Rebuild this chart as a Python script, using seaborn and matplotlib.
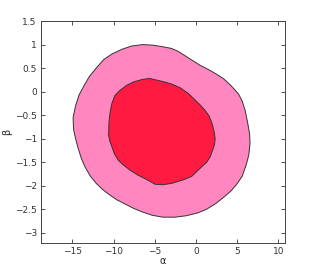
import matplotlib
matplotlib.use('Agg')
import matplotlib.pyplot as plt
import seaborn as sns

# 信頼領域の境界（図から読み取った頂点）
outer_x = [-14.9, -14.6, -14.2, -13.6, -12.9, -12.1, -11.2, -10.2, -9.0, -7.8, -6.5, -5.3,
           -4.2, -3.0, -2.2, -1.3, -0.5, 0.5, 1.5, 2.4, 3.3, 4.0, 4.6, 5.15, 5.6, 5.96,
           6.25, 6.5, 6.55, 6.4, 6.1, 5.6, 4.9, 4.2, 3.4, 2.4, 1.3, 0.2, -1.2, -2.54,
           -4.0, -5.3, -6.5, -7.6, -8.7, -9.6, -10.6, -11.4, -12.1, -12.8, -13.46, -13.9,
           -14.3, -14.6, -14.85]
outer_y = [-0.55, -0.30, -0.08, 0.12, 0.33, 0.50, 0.68, 0.80, 0.90, 0.97, 1.00, 0.99,
           0.96, 0.92, 0.86, 0.76, 0.67, 0.56, 0.47, 0.38, 0.28, 0.17, 0.06, -0.05, -0.20,
           -0.40, -0.65, -0.90, -1.10, -1.35, -1.55, -1.80, -1.98, -2.12, -2.24, -2.38,
           -2.50, -2.58, -2.64, -2.67, -2.67, -2.63, -2.56, -2.48, -2.38, -2.30, -2.18,
           -2.07, -1.95, -1.80, -1.60, -1.42, -1.20, -1.00, -0.80]

inner_x = [-10.6, -10.55, -10.42, -10.2, -9.82, -9.2, -8.4, -7.5, -6.5, -5.6, -4.9, -3.9,
           -2.94, -1.9, -0.93, -0.1, 0.6, 1.1, 1.6, 1.95, 2.2, 2.32, 2.25, 2.11, 1.71, 1.3,
           0.5, -0.51, -1.6, -2.94, -4.0, -4.96, -5.97, -7.0, -8.0, -8.8, -9.42, -9.9,
           -10.2, -10.45]
inner_y = [-0.93, -0.65, -0.45, -0.25, -0.08, 0.03, 0.135, 0.21, 0.26, 0.28, 0.25, 0.21,
           0.16, 0.08, -0.04, -0.18, -0.30, -0.40, -0.52, -0.68, -0.85, -1.00, -1.12,
           -1.20, -1.39, -1.50, -1.63, -1.80, -1.88, -1.95, -1.98, -1.97, -1.87, -1.78,
           -1.67, -1.56, -1.46, -1.32, -1.17, -1.05]

xticks = [-15, -10, -5, 0, 5, 10]
yticks = [-3, -2.5, -2, -1.5, -1, -0.5, 0, 0.5, 1, 1.5]
ytick_labels = ['\u22123', '\u22122.5', '\u22122', '\u22121.5', '\u22121', '\u22120.5', '0', '0.5', '1', '1.5']
xtick_labels = ['\u221215', '\u221210', '\u22125', '0', '5', '10']

sns.set_style('ticks')
plt.rcParams['font.family'] = ['DejaVu Sans']

fig = plt.figure(figsize=(3.15, 2.74), dpi=100)
ax = fig.add_axes([0.130, 0.113, 0.775, 0.810])

ax.fill(outer_x, outer_y, facecolor='#ff86be', edgecolor='#333333', linewidth=0.7)
ax.fill(inner_x, inner_y, facecolor='#ff1a42', edgecolor='#333333', linewidth=0.7)

ax.set_xlim(-18.8, 10.8)
ax.set_ylim(-3.22, 1.5)
ax.set_xticks(xticks)
ax.set_xticklabels(xtick_labels)
ax.set_yticks(yticks)
ax.set_yticklabels(ytick_labels)
ax.tick_params(direction='in', top=True, right=True, length=3, width=0.6,
               labelsize=6.5, colors='#333333', pad=3)
for s in ax.spines.values():
    s.set_linewidth(0.7)
    s.set_color('#444444')
ax.set_xlabel('\u03b1', fontsize=7, labelpad=0)
ax.set_ylabel('\u03b2', fontsize=7, labelpad=2)

fig.savefig('out.png', dpi=100)
